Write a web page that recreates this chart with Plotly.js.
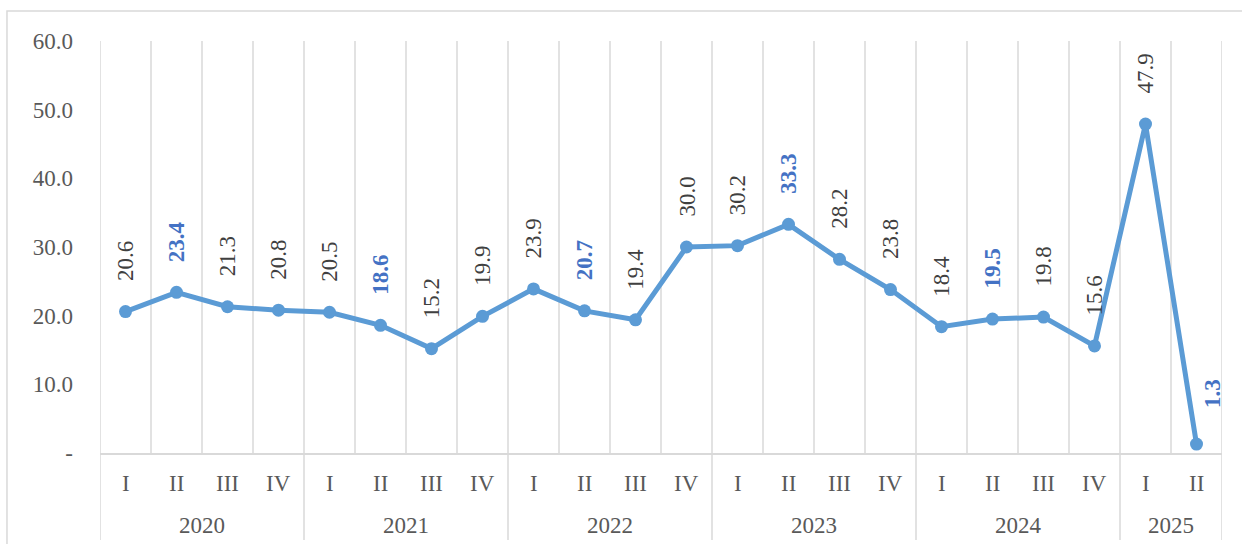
<!DOCTYPE html>
<html>
<head>
<meta charset="utf-8">
<script src="https://cdn.plot.ly/plotly-3.0.1.min.js"></script>
<style>
html,body{margin:0;padding:0;background:#fff;}
#chart{width:1242px;height:544px;}
</style>
</head>
<body>
<div id="chart"></div>
<script>
const years = ['2020','2020','2020','2020','2021','2021','2021','2021','2022','2022','2022','2022','2023','2023','2023','2023','2024','2024','2024','2024','2025','2025'];
const quarters = ['I','II','III','IV','I','II','III','IV','I','II','III','IV','I','II','III','IV','I','II','III','IV','I','II'];
const values = [20.6, 23.4, 21.3, 20.8, 20.5, 18.6, 15.2, 19.9, 23.9, 20.7, 19.4, 30.0, 30.2, 33.3, 28.2, 23.8, 18.4, 19.5, 19.8, 15.6, 47.9, 1.3];
const yTickVals = [0, 10, 20, 30, 40, 50, 60];
const yTickText = ['-', '10.0', '20.0', '30.0', '40.0', '50.0', '60.0'];

const FONT = 'Liberation Serif, Times New Roman, serif';
const GREY = '#595959';
const DARK = '#404040';
const GRID = '#d9d9d9';
const LINE = '#5b9bd5';
const HIGHLIGHT = '#4472c4';

const n = values.length;
const xs = values.map((v, i) => i);

const annotations = [];
const shapes = [];

// data labels
values.forEach((v, i) => {
  const hl = quarters[i] === 'II';
  const last = i === n - 1;
  annotations.push({
    x: i, y: v, xref: 'x', yref: 'y',
    text: hl ? '<b>' + v.toFixed(1) + '</b>' : v.toFixed(1),
    showarrow: false, textangle: -90,
    xanchor: 'center', yanchor: 'bottom',
    yshift: last ? 34 : 28, xshift: last ? 16 : 0,
    font: {family: FONT, size: 23, color: hl ? HIGHLIGHT : DARK}
  });
  // quarter labels
  annotations.push({
    x: i, y: -0.075, xref: 'x', yref: 'paper',
    text: quarters[i], showarrow: false,
    xanchor: 'center', yanchor: 'middle',
    font: {family: FONT, size: 23, color: GREY}
  });
});

// vertical grid lines at category boundaries
for (let k = 0; k <= n; k++) {
  const xb = k - 0.5;
  const isYearBoundary = k === 0 || k === n || years[k] !== years[k - 1];
  shapes.push({
    type: 'line', xref: 'x', yref: 'paper',
    x0: xb, x1: xb, y0: isYearBoundary ? -0.211 : 0, y1: 1,
    line: {color: GRID, width: 1.5}, layer: 'below'
  });
}

// year labels
const yearList = [];
years.forEach((y, i) => {
  const last = yearList[yearList.length - 1];
  if (!last || last.year !== y) yearList.push({year: y, start: i, end: i});
  else last.end = i;
});
yearList.forEach(g => {
  annotations.push({
    x: (g.start + g.end) / 2, y: -0.175, xref: 'x', yref: 'paper',
    text: g.year, showarrow: false,
    xanchor: 'center', yanchor: 'middle',
    font: {family: FONT, size: 23, color: GREY}
  });
});

// outer frame
shapes.push({
  type: 'rect', xref: 'paper', yref: 'paper',
  x0: -0.0829, x1: 1.2, y0: -0.3, y1: 1.0728,
  line: {color: GRID, width: 1.5}, fillcolor: 'rgba(0,0,0,0)', layer: 'below'
});

const trace = {
  x: xs, y: values, type: 'scatter', mode: 'lines+markers',
  line: {color: LINE, width: 5},
  marker: {color: LINE, size: 13},
  hoverinfo: 'skip', cliponaxis: false
};

const layout = {
  width: 1242, height: 544,
  margin: {l: 100, r: 20, t: 41, b: 91, pad: 0},
  paper_bgcolor: '#fff', plot_bgcolor: '#fff',
  showlegend: false,
  font: {family: FONT, color: GREY},
  xaxis: {
    range: [-0.5, n - 0.5], showgrid: false, zeroline: false,
    showticklabels: false, ticks: '',
    showline: true, linecolor: GRID, linewidth: 1.5, fixedrange: true
  },
  yaxis: {
    range: [0, 60], tickvals: yTickVals, ticktext: yTickText,
    showgrid: false, zeroline: false, showline: false, ticks: '',
    ticklabelstandoff: 26,
    tickfont: {family: FONT, size: 23, color: GREY}, fixedrange: true
  },
  annotations: annotations,
  shapes: shapes
};

Plotly.newPlot('chart', [trace], layout, {displayModeBar: false, staticPlot: true});
</script>
</body>
</html>
